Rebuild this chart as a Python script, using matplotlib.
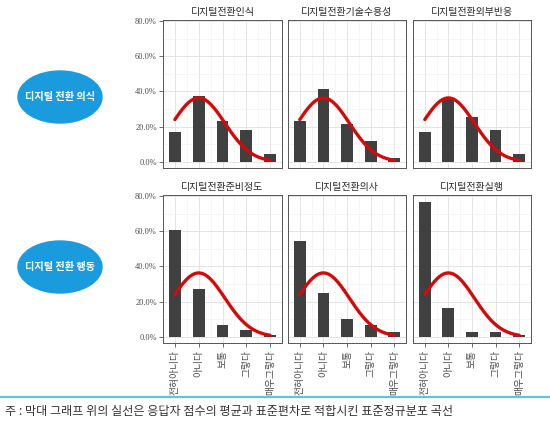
import matplotlib
matplotlib.use("Agg")
import matplotlib.pyplot as plt
import numpy as np
from matplotlib.patches import Ellipse
from matplotlib.ticker import FixedLocator, FuncFormatter

plt.rcParams["font.family"] = ["Noto Sans CJK KR", "DejaVu Sans"]

# Data
categories = ["전혀아니다", "아니다", "보통", "그렇다", "매우그렇다"]

titles_top = ["디지털전환인식", "디지털전환기술수용성", "디지털전환외부반응"]
titles_bottom = ["디지털전환준비정도", "디지털전환의사", "디지털전환실행"]

recognition = [0.17, 0.372, 0.234, 0.183, 0.042]
tech_accept = [0.232, 0.413, 0.213, 0.121, 0.021]
external = [0.17, 0.357, 0.255, 0.183, 0.042]
readiness = [0.609, 0.272, 0.070, 0.040, 0.011]
intention = [0.544, 0.251, 0.102, 0.070, 0.030]
execution = [0.767, 0.161, 0.030, 0.030, 0.011]

# fitted normal curve parameters (as drawn in every panel)
curve_mean = [2.0, 2.0, 2.0, 2.0, 2.0, 2.0]
curve_sd = [1.1, 1.1, 1.1, 1.1, 1.1, 1.1]

group_labels = ["디지털 전환 의식", "디지털 전환 행동"]
footnote = "주 : 막대 그래프 위의 실선은 응답자 점수의 평균과 표준편차로 적합시킨 표준정규분포 곡선"

W, H = 550, 422
fig = plt.figure(figsize=(W / 100, H / 100), dpi=100)


def px_axes(left, top, right, bottom):
    return fig.add_axes([left / W, 1 - bottom / H, (right - left) / W, (bottom - top) / H])


panels = [
    (titles_top[0], recognition, 163, 20, 282, 168, True, False),
    (titles_top[1], tech_accept, 288, 20, 406, 168, False, False),
    (titles_top[2], external, 413, 20, 531, 168, False, False),
    (titles_bottom[0], readiness, 163, 195, 282, 343, True, True),
    (titles_bottom[1], intention, 288, 195, 406, 343, False, True),
    (titles_bottom[2], execution, 413, 195, 531, 343, False, True),
]

x = np.arange(1, len(categories) + 1)
xs = np.linspace(1, 5, 200)

for i, (title, vals, l, t, r, b, show_y, show_x) in enumerate(panels):
    ax = px_axes(l, t, r, b)
    ax.set_xlim(0.5, 5.5)
    ax.set_ylim(-0.035, 0.805)

    ax.xaxis.set_major_locator(FixedLocator(x))
    ax.xaxis.set_minor_locator(FixedLocator(x[:-1] + 0.5))
    ax.yaxis.set_major_locator(FixedLocator([0, 0.2, 0.4, 0.6, 0.8]))
    ax.yaxis.set_minor_locator(FixedLocator([0.1, 0.3, 0.5, 0.7]))
    ax.grid(which="major", color="#e4e4e4", lw=0.7)
    ax.grid(which="minor", color="#efefef", lw=0.4)
    ax.set_axisbelow(True)

    ax.bar(x, vals, width=0.5, color="#404040", zorder=2)

    mu, sd = curve_mean[i], curve_sd[i]
    dens = np.exp(-0.5 * ((xs - mu) / sd) ** 2) / (sd * np.sqrt(2 * np.pi))
    ax.plot(xs, dens, color="#d40a0a", lw=2.4, solid_capstyle="round", zorder=3)

    for s in ax.spines.values():
        s.set_color("#555555")
        s.set_linewidth(0.7)

    ax.set_title(title, fontsize=7.2, color="#2b2b2b", pad=3.5)

    ax.tick_params(which="minor", length=0)
    ax.tick_params(which="major", length=3, width=0.6, color="#555555")
    if show_y:
        ax.yaxis.set_major_formatter(FuncFormatter(lambda v, p: f"{v * 100:.1f}%"))
        for lab in ax.get_yticklabels():
            lab.set_fontfamily("Liberation Serif")
            lab.set_fontsize(6)
            lab.set_color("#4d4d4d")
        ax.tick_params(axis="y", pad=1.5)
    else:
        ax.tick_params(axis="y", left=False, labelleft=False)
    if show_x:
        ax.set_xticklabels(categories, rotation=90, fontsize=7.0, color="#4d4d4d")
        ax.tick_params(axis="x", pad=2)
    else:
        ax.tick_params(axis="x", bottom=False, labelbottom=False)

# decoration layer in pixel coordinates
deco = fig.add_axes([0, 0, 1, 1], zorder=-1)
deco.set_xlim(0, W)
deco.set_ylim(H, 0)
deco.axis("off")

for label, cy in zip(group_labels, [97, 267]):
    deco.add_patch(Ellipse((60, cy), 84, 52, color="#1a9bde"))
    deco.text(60, cy, label, color="white", fontsize=7.3, fontweight="bold",
              ha="center", va="center")

deco.plot([0, W], [397, 397], color="#5cc6dc", lw=1.6)
deco.text(5, 411, footnote, fontsize=8.7, color="#333333", ha="left", va="center")

fig.savefig("out.png", dpi=100)
